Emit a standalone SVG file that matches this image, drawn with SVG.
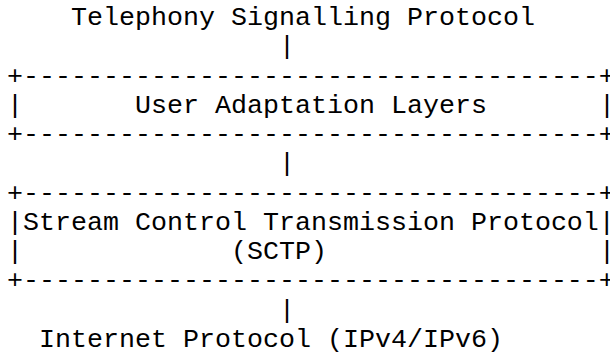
<svg xmlns="http://www.w3.org/2000/svg" width="610" height="353" viewBox="0 0 610 353">
<style>
text{font-family:"Liberation Mono","Courier New",monospace;font-size:26.667px;fill:#000;white-space:pre}
</style>
<rect width="610" height="353" fill="#fff"/>
<g id="telephony">
<text x="71" y="25">Telephony Signalling Protocol</text>
</g>
<g id="ual">
<text x="7" y="83.5">+------------------------------------+</text>
<text x="7" y="112.8">|</text>
<text x="135" y="112.8">User Adaptation Layers</text>
<text x="599" y="112.8">|</text>
<text x="7" y="142.1">+------------------------------------+</text>
</g>
<g id="sctp">
<text x="7" y="200.6">+------------------------------------+</text>
<text x="7" y="229.9">|Stream Control Transmission Protocol|</text>
<text x="7" y="259.2">|</text>
<text x="231" y="259.2">(SCTP)</text>
<text x="599" y="259.2">|</text>
<text x="7" y="288.4">+------------------------------------+</text>
</g>
<g id="ip">
<text x="39" y="347">Internet Protocol (IPv4/IPv6)</text>
</g>
<g id="connectors">
<text x="279" y="54.3">|</text>
<text x="279" y="171.4">|</text>
<text x="279" y="317.7">|</text>
</g>
</svg>
